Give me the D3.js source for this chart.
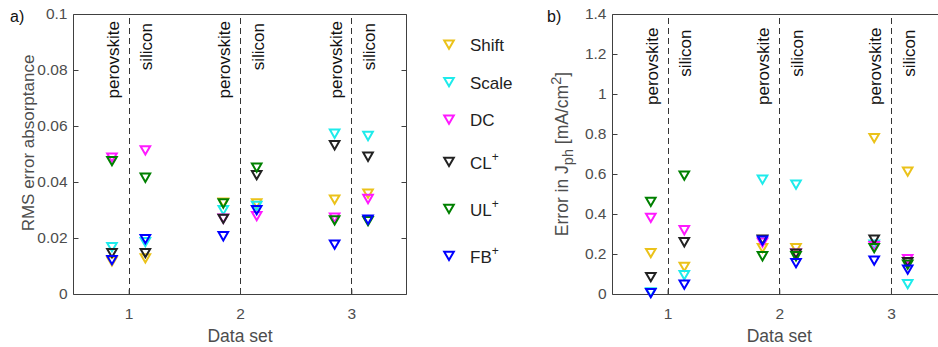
<!DOCTYPE html>
<html><head><meta charset="utf-8">
<script src="https://cdn.jsdelivr.net/npm/d3@7"></script>
<style>
body{margin:0;background:#fff}
svg{display:block}
text{font-family:"Liberation Sans",Arial,Helvetica,sans-serif}
</style>
</head><body>
<svg id="c" width="938" height="347"></svg>
<script>
// ---------------- DATA ----------------
const dataSets = [1, 2, 3];
const layers = ["perovskite", "silicon"];
const seriesNames = ["Shift", "Scale", "DC", "CL", "UL", "FB"];
const seriesSup = ["", "", "", "+", "+", "+"];
const rmsTicks = [0, 0.02, 0.04, 0.06, 0.08, 0.1];
const jphTicks = [0, 0.2, 0.4, 0.6, 0.8, 1, 1.2, 1.4];
const xTicks = [1, 2, 3];
// order of values: set1 perovskite, set1 silicon, set2 perovskite, set2 silicon, set3 perovskite, set3 silicon
const rmsShift = [0.0115, 0.0126, 0.0325, 0.0322, 0.0336, 0.0357];
const rmsScale = [0.0166, 0.0184, 0.0298, 0.0313, 0.0571, 0.0563];
const rmsDC    = [0.0486, 0.0512, 0.0268, 0.0277, 0.0271, 0.0338];
const rmsCL    = [0.0145, 0.0145, 0.0267, 0.0423, 0.0530, 0.0489];
const rmsUL    = [0.0473, 0.0414, 0.0322, 0.0450, 0.0262, 0.0259];
const rmsFB    = [0.0120, 0.0195, 0.0205, 0.0298, 0.0175, 0.0264];
const jphShift = [0.203, 0.134, 0.228, 0.228, 0.778, 0.610];
const jphScale = [0.006, 0.092, 0.570, 0.545, 0.245, 0.048];
const jphDC    = [0.379, 0.317, 0.255, 0.200, 0.237, 0.173];
const jphCL    = [0.083, 0.257, 0.270, 0.200, 0.270, 0.158];
const jphUL    = [0.459, 0.590, 0.187, 0.187, 0.228, 0.145];
const jphFB    = [0.003, 0.045, 0.265, 0.153, 0.165, 0.120];

// ---------------- STYLE ----------------
const colors = ["#EBC21A", "#1EEBEB", "#FF1AFF", "#222222", "#008000", "#0000FF"];
const AX = "#404040";
const TXT = "#4d4d4d";
const tri = "M-4.8,-4.5L4.8,-4.5L0,3.8Z";
const FF = '"Liberation Sans",Arial,sans-serif';

const svg = d3.select("#c");

function buildPoints(arrs) {
  const pts = [];
  arrs.forEach((arr, si) => {
    arr.forEach((v, i) => {
      pts.push({ series: si, set: dataSets[Math.floor(i / 2)], layer: i % 2, value: v });
    });
  });
  return pts;
}

function drawPanel(cfg) {
  const x = d3.scaleLinear().domain([0.5, 3.5]).range(cfg.xr);
  const y = d3.scaleLinear().domain(cfg.yd).range([294, 14]);
  const g = svg.append("g");

  // dashed separators
  g.selectAll(".sep").data(xTicks).join("line")
    .attr("x1", d => Math.round(x(d)) + 0.5).attr("x2", d => Math.round(x(d)) + 0.5)
    .attr("y1", y.range()[0]).attr("y2", y.range()[1])
    .attr("stroke", "#333").attr("stroke-width", 1).attr("stroke-dasharray", "6,4");

  // left axis
  const ya = g.append("g").attr("transform", `translate(${Math.round(cfg.xr[0]) + 0.5},0)`)
    .call(d3.axisLeft(y).tickValues(cfg.ticks).tickSizeInner(-5).tickSizeOuter(0).tickPadding(6)
      .tickFormat(d => d3.format("~g")(d)));
  ya.select(".domain").remove();
  ya.selectAll("line").attr("stroke", AX);
  ya.selectAll("text").attr("fill", TXT).style("font-size", "15.5px").style("font-family", FF);

  // right axis ticks
  const yr = g.append("g").attr("transform", `translate(${Math.round(cfg.xr[1]) - 0.5},0)`)
    .call(d3.axisRight(y).tickValues(cfg.ticks).tickSizeInner(-5).tickSizeOuter(0).tickFormat(""));
  yr.select(".domain").remove();
  yr.selectAll("line").attr("stroke", AX);

  // bottom axis
  const xa = g.append("g").attr("transform", `translate(0,${294.5})`)
    .call(d3.axisBottom(x).tickValues(xTicks).tickSizeInner(-5).tickSizeOuter(0).tickPadding(13).tickFormat(d3.format("d")));
  xa.select(".domain").remove();
  xa.selectAll("line").attr("stroke", AX);
  xa.selectAll("text").attr("fill", TXT).style("font-size", "15.5px").style("font-family", FF);

  // box
  const L = Math.round(cfg.xr[0]) + 0.5, R = Math.round(cfg.xr[1]) - 0.5;
  g.append("path").attr("d", `M${L},14.5H${R}V294.5H${L}Z`).attr("fill", "none").attr("stroke", AX).attr("stroke-width", 1);

  // layer labels
  dataSets.forEach(ds => {
    layers.forEach((ly, li) => {
      const xx = x(ds + (li === 0 ? -0.15 : 0.15)) + 1;
      g.append("text").attr("transform", `translate(${xx},${cfg.labelY + (li === 1 ? 2 : 0)}) rotate(-90)`)
        .attr("text-anchor", "end").attr("dy", "0.35em")
        .style("font-size", "17px").attr("fill", "#111").text(ly);
    });
  });

  // markers
  const pts = buildPoints(cfg.values);
  g.selectAll(".m").data(pts).join("path")
    .attr("d", tri)
    .attr("transform", d => `translate(${x(d.set + (d.layer === 0 ? -0.15 : 0.15))},${y(d.value)})`)
    .attr("fill", "none").attr("stroke", d => colors[d.series]).attr("stroke-width", 2);

  // x label
  g.append("text").attr("x", x(2)).attr("y", 342).attr("text-anchor", "middle")
    .style("font-size", "17.5px").attr("fill", TXT).text("Data set");

  // panel letter
  g.append("text").attr("x", cfg.letterX).attr("y", 22).style("font-size", "16px").attr("fill", "#111").text(cfg.letter);

  return g;
}

// Panel a
drawPanel({ xr: [73, 407], yd: [0, 0.1], ticks: rmsTicks, labelY: 21, letter: "a)", letterX: 10,
  values: [rmsShift, rmsScale, rmsDC, rmsCL, rmsUL, rmsFB] });
svg.append("text").attr("transform", "translate(34,143) rotate(-90)").attr("text-anchor", "middle")
  .style("font-size", "17px").attr("fill", TXT).text("RMS error absorptance");

// Panel b
drawPanel({ xr: [611.7, 946.8], yd: [0, 1.4], ticks: jphTicks, labelY: 27.5, letter: "b)", letterX: 547,
  values: [jphShift, jphScale, jphDC, jphCL, jphUL, jphFB] });
const yl = svg.append("text").attr("transform", "translate(568,154) rotate(-90)").attr("text-anchor", "middle")
  .style("font-size", "17.5px").attr("fill", TXT);
yl.append("tspan").text("Error in J");
yl.append("tspan").attr("dy", 5).style("font-size", "14.5px").text("ph");
yl.append("tspan").attr("dy", -5).text(" [mA/cm");
yl.append("tspan").attr("dy", -7.5).style("font-size", "14.5px").text("2");
yl.append("tspan").attr("dy", 7.5).text("]");

// Legend
const legend = svg.append("g");
let ly = 45;
seriesNames.forEach((name, i) => {
  if (i > 0) {
    const hPrev = seriesSup[i - 1] ? 47 : 37.5, hCur = seriesSup[i] ? 47 : 37.5;
    ly += (hPrev + hCur) / 2;
  }
  legend.append("path").attr("d", tri).attr("transform", `translate(449,${ly})`)
    .attr("fill", "none").attr("stroke", colors[i]).attr("stroke-width", 2);
  const t = legend.append("text").attr("x", 470).attr("y", ly + 6.3).style("font-size", "17px").attr("fill", "#222");
  t.append("tspan").text(name);
  if (seriesSup[i]) t.append("tspan").attr("dy", -8).style("font-size", "12px").text(seriesSup[i]);
});
</script>
</body></html>
